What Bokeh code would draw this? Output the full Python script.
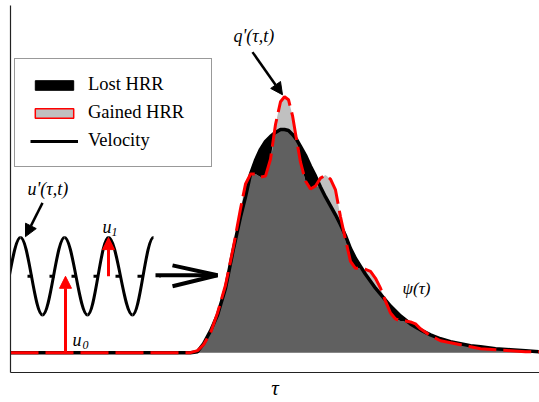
import numpy as np
from bokeh.plotting import figure
from bokeh.models import (Range1d, Label, Arrow, NormalHead, Legend, LegendItem,
                          FixedTicker)
from bokeh.embed import file_html
from bokeh.resources import INLINE

# ---------------- data ----------------
# common tau grid and heights above the baseline of psi(tau) and q'(tau,t)
tau = [10, 190, 197, 203, 210, 217, 225, 233, 240, 245, 250, 255, 260, 265, 270,
       275, 280, 284, 288, 292, 296, 300, 305, 310, 315, 320, 325, 330, 335, 340,
       345, 350, 355, 360, 365, 370, 375, 380, 385, 390, 395, 400, 405, 410, 415,
       420, 430, 440, 450, 460, 470, 480, 495, 510, 525, 539]
psi = [0, 0, 1, 9, 22, 38, 65, 105, 137, 157, 180, 194, 205, 213, 218,
       222, 225, 225, 224, 220, 215, 208, 199, 188, 178, 167, 157, 148, 139, 129,
       118, 105, 95, 87, 79, 72, 65, 59, 53, 47, 42, 37, 33, 29, 26,
       23, 18, 14, 11, 9, 7, 6, 4, 3, 2, 1]
q_hrr = [0, 0, 2, 8, 20, 40, 68, 107, 145, 170, 180, 180, 177, 178, 195,
         230, 253, 258, 255, 239, 215, 192, 173, 165, 168, 176, 179, 175, 164, 137,
         114, 92, 85, 85, 84, 82, 75, 65, 52, 40, 34, 32, 32, 31, 29,
         24, 17, 12, 10, 8, 6, 4, 3, 2, 1, 1]

# velocity signal u'(tau,t): positions of its extrema, mean level u0, peak u0+u1
vel_ext_x = [-2.5, 20, 42, 64, 87, 108, 132, 153]
vel_ext_y = [38, 116, 38, 116, 38, 116, 38, 116]
u0_level = 77
u1_peak = 116

legend_labels = ["Lost HRR", "Gained HRR", "Velocity"]

serif = "'Liberation Serif', serif"

# ---------------- figure ----------------
p = figure(width=539, height=402, output_backend="svg", toolbar_location=None,
           x_range=Range1d(10, 539), y_range=Range1d(-20, 350),
           min_border_left=10, min_border_right=0, min_border_top=5,
           min_border_bottom=27, outline_line_color=None, title_location=None,
           background_fill_color="white", border_fill_color="white")
p.grid.visible = False
for ax in (p.xaxis[0], p.yaxis[0]):
    ax.ticker = FixedTicker(ticks=[])
    ax.major_tick_out = 0
    ax.major_tick_in = 0
    ax.minor_tick_out = 0
    ax.minor_tick_in = 0
    ax.major_label_text_font_size = "0px"
    ax.major_label_standoff = 0
    ax.axis_line_color = "#222222"
    ax.axis_line_width = 1.2
p.xaxis.axis_label = "τ"
p.xaxis.axis_label_text_font = serif
p.xaxis.axis_label_text_font_style = "italic"
p.xaxis.axis_label_text_font_size = "21px"
p.xaxis.axis_label_text_color = "black"
p.xaxis.axis_label_standoff = 3

x = np.array(tau, dtype=float)
ps = np.array(psi, dtype=float)
qq = np.array(q_hrr, dtype=float)
lo = np.minimum(ps, qq)
zero = np.zeros_like(x)

# fills
p.varea(x=x, y1=zero, y2=lo, fill_color="#606060")
p.varea(x=x, y1=lo, y2=ps, fill_color="black")
p.varea(x=x, y1=lo, y2=qq, fill_color="#c0c0c0")

# curves
p.line(x, ps, line_color="black", line_width=3.5)
p.line(x, qq, line_color="red", line_width=3, line_dash="28 7")

# velocity signal as half-wave bezier segments between extrema
ex = np.array(vel_ext_x, dtype=float)
ey = np.array(vel_ext_y, dtype=float)
dx = ex[1:] - ex[:-1]
k = 0.364
r_vel = p.bezier(x0=ex[:-1], y0=ey[:-1], x1=ex[1:], y1=ey[1:],
                 cx0=ex[:-1] + k * dx, cy0=ey[:-1], cx1=ex[1:] - k * dx, cy1=ey[1:],
                 line_color="black", line_width=3)
p.line([5, 160], [u0_level, u0_level], line_color="black", line_width=3,
       line_dash="5 17")

# red arrows u0 and u1
p.add_layout(Arrow(x_start=65, y_start=0, x_end=65, y_end=u0_level,
                   line_color="red", line_width=3,
                   end=NormalHead(size=12, fill_color="red", line_color="red")))
p.add_layout(Arrow(x_start=108, y_start=u0_level, x_end=108, y_end=u1_peak,
                   line_color="red", line_width=3,
                   end=NormalHead(size=12, fill_color="red", line_color="red")))

# black annotation arrows
p.add_layout(Arrow(x_start=252, y_start=303, x_end=282, y_end=260,
                   line_color="black", line_width=2.5,
                   end=NormalHead(size=12, fill_color="black", line_color="black")))
p.add_layout(Arrow(x_start=42, y_start=151, x_end=25, y_end=117,
                   line_color="black", line_width=2.5,
                   end=NormalHead(size=12, fill_color="black", line_color="black")))

# big open arrow
p.line([155, 217], [u0_level + 1, u0_level + 1], line_color="black", line_width=4)
p.line([172, 217, 172], [88, u0_level + 1, 67], line_color="black", line_width=4)

# text labels
def lab(xx, yy, t, size="18px", base="middle", align="left"):
    p.add_layout(Label(x=xx, y=yy, text=t, text_font=serif, text_font_style="italic",
                       text_font_size=size, text_baseline=base, text_align=align,
                       text_color="black"))
lab(233, 319, "q'(τ,t)")
lab(27, 165, "u'(τ,t)")
lab(402, 65, "ψ(τ)", size="17px")
lab(72, 13, "u", base="alphabetic")
lab(82, 8, "0", size="12px", base="alphabetic")
lab(102, 127, "u", base="alphabetic")
lab(111, 122, "1", size="12px", base="alphabetic")

# legend swatches (no visible mark of their own)
r_lost = p.quad(left=[np.nan], right=[np.nan], bottom=[np.nan], top=[np.nan],
                fill_color="black", line_color="black", line_width=1)
r_gain = p.quad(left=[np.nan], right=[np.nan], bottom=[np.nan], top=[np.nan],
                fill_color="#c0c0c0", line_color="red", line_width=1.5)
legend = Legend(items=[LegendItem(label=legend_labels[0], renderers=[r_lost]),
                       LegendItem(label=legend_labels[1], renderers=[r_gain]),
                       LegendItem(label=legend_labels[2], renderers=[r_vel])],
                location=(4, 205), margin=0, padding=15, spacing=7,
                glyph_width=48, glyph_height=12, label_standoff=10,
                label_width=108, label_height=20,
                label_text_font=serif, label_text_font_size="18.5px",
                label_text_color="black",
                border_line_color="#333333", border_line_width=1,
                background_fill_color="white", background_fill_alpha=1)
p.add_layout(legend)

open("out.html", "w").write(file_html(p, INLINE))
